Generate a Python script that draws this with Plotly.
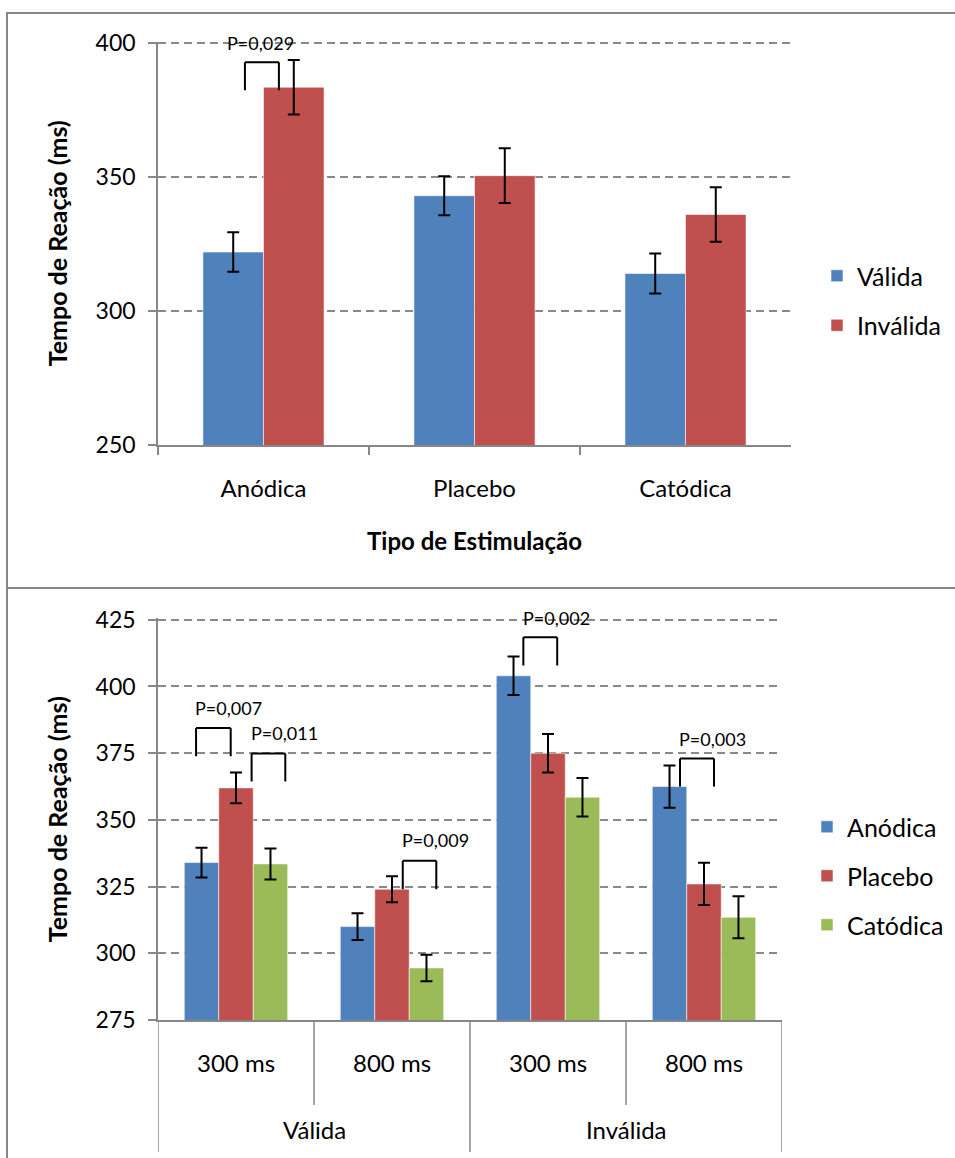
import plotly.graph_objects as go

W, H = 955, 1158


def px(x):
    return x / W


def py(y):
    return 1 - y / H


FONT = "Lato"
BLUE, RED, GREEN = "#4F81BD", "#C0504D", "#9BBB59"
GRID = "#8A8A8A"
FRAME = "#878787"

# ---- upper panel: reaction time by stimulation type and cue validity ----
stim_types = ["Anódica", "Placebo", "Catódica"]
cue_series = ["Válida", "Inválida"]
rt_valida = [322, 343, 314]
rt_invalida = [383.5, 350.5, 336]
err_valida = [7.4, 7.3, 7.5]
err_invalida = [10.2, 10.2, 10.2]

# ---- lower panel: reaction time by cue validity, SOA and stimulation ----
cue_groups = ["Válida", "Inválida"]
soa_labels = ["300 ms", "800 ms"]
stim_series = ["Anódica", "Placebo", "Catódica"]
rt_anodica = [334, 310, 404, 362.5]
rt_placebo = [362, 324, 375, 326]
rt_catodica = [333.5, 294.5, 358.5, 313.5]
err_anodica = [5.6, 5.0, 7.2, 7.9]
err_placebo = [5.8, 4.9, 7.2, 7.9]
err_catodica = [5.8, 5.0, 7.2, 7.9]

# significance brackets: (category index, left leg, right leg, top, leg end, label, label dx, label y)
brackets_top = [
    (0, -0.088, 0.073, 392.8, 382.4, "P=0,029", -0.012, 400.0),
]
brackets_bottom = [
    (0, -0.256, -0.034, 384.4, 373.9, "P=0,007", -0.045, 392.0),
    (0, 0.100, 0.316, 374.9, 364.4, "P=0,011", 0.308, 382.4),
    (1, 0.069, 0.284, 334.7, 324.0, "P=0,009", 0.276, 342.3),
    (2, -0.158, 0.059, 418.5, 407.9, "P=0,002", 0.056, 425.7),
    (3, -0.154, 0.064, 373.0, 362.5, "P=0,003", 0.054, 380.4),
]

# plot areas (pixels) and value ranges
TOP_RANGE = [250, 400.5]
TOP_DOM = [py(445), py(445 - 150.5 * 2.68)]
BOT_RANGE = [275, 425.5]
BOT_DOM = [py(1020), py(1020 - 150.5 * 2.668)]


def to_paper(v, rng, dom):
    return dom[0] + (v - rng[0]) / (rng[1] - rng[0]) * (dom[1] - dom[0])


fig = go.Figure()

# upper bars
w_top = 0.287
for i, (name, vals, errs, col) in enumerate(
    zip(cue_series, [rt_valida, rt_invalida], [err_valida, err_invalida], [BLUE, RED])
):
    fig.add_trace(go.Bar(
        x=stim_types, y=vals, name=name, width=w_top, offset=(i - 1) * w_top,
        marker=dict(color=col, line=dict(color="rgba(255,255,255,0.55)", width=1)),
        error_y=dict(type="data", array=errs, color="black", thickness=2, width=6),
        xaxis="x", yaxis="y", legend="legend", legendgroup=name, hoverinfo="skip",
    ))

# lower bars
x_keys = [f"{g} {s}" for g in cue_groups for s in soa_labels]
w_bot = 0.221
for i, (name, vals, errs, col) in enumerate(
    zip(stim_series, [rt_anodica, rt_placebo, rt_catodica],
        [err_anodica, err_placebo, err_catodica], [BLUE, RED, GREEN])
):
    fig.add_trace(go.Bar(
        x=x_keys, y=vals, name=name, width=w_bot, offset=(i - 1.5) * w_bot,
        marker=dict(color=col, line=dict(color="rgba(255,255,255,0.55)", width=1)),
        error_y=dict(type="data", array=errs, color="black", thickness=2, width=6),
        xaxis="x2", yaxis="y2", legend="legend2", legendgroup="b" + name, hoverinfo="skip",
    ))

shapes = []
annotations = []


def add_brackets(specs, xref, yref, rng, dom):
    for idx, l, r, top, bot, label, tdx, ty in specs:
        line = dict(color="black", width=2)
        shapes.append(dict(type="line", xref=xref, yref=yref, x0=idx + l, x1=idx + l, y0=bot, y1=top, line=line))
        shapes.append(dict(type="line", xref=xref, yref=yref, x0=idx + l, x1=idx + r, y0=top, y1=top, line=line))
        shapes.append(dict(type="line", xref=xref, yref=yref, x0=idx + r, x1=idx + r, y0=top, y1=bot, line=line))
        annotations.append(dict(x=idx + tdx, y=to_paper(ty, rng, dom), xref=xref, yref="paper",
                                text=label, showarrow=False,
                                font=dict(family=FONT, size=18, color="black"),
                                xanchor="center", yanchor="middle"))


add_brackets(brackets_top, "x", "y", TOP_RANGE, TOP_DOM)
add_brackets(brackets_bottom, "x2", "y2", BOT_RANGE, BOT_DOM)

# lower category axis: SOA labels, group labels and dividers
n_cat = len(x_keys)
for k in range(n_cat + 1):
    major = k % len(soa_labels) == 0
    shapes.append(dict(type="line", xref="x2", yref="paper", x0=k - 0.5, x1=k - 0.5,
                       y0=py(1020), y1=py(1152 if major else 1105),
                       line=dict(color=FRAME, width=1.5)))
for k in range(n_cat):
    annotations.append(dict(x=k, y=py(1062), xref="x2", yref="paper",
                            text=soa_labels[k % len(soa_labels)], showarrow=False,
                            font=dict(family=FONT, size=24, color="black"),
                            xanchor="center", yanchor="middle"))
for g, name in enumerate(cue_groups):
    annotations.append(dict(x=g * len(soa_labels) + (len(soa_labels) - 1) / 2, y=py(1129),
                            xref="x2", yref="paper", text=name, showarrow=False,
                            font=dict(family=FONT, size=24, color="black"),
                            xanchor="center", yanchor="middle"))

# panel frames
shapes.append(dict(type="rect", xref="paper", yref="paper", x0=px(7), x1=1.05, y0=py(588), y1=py(13),
                   line=dict(color=FRAME, width=2), layer="below"))
shapes.append(dict(type="rect", xref="paper", yref="paper", x0=px(7), x1=1.05, y0=-0.05, y1=py(588),
                   line=dict(color=FRAME, width=2), layer="below"))

yaxis_common = dict(
    showline=True, linecolor=FRAME, linewidth=1.5,
    ticks="outside", ticklen=8, tickcolor=FRAME, tickwidth=1.5,
    showgrid=True, gridcolor=GRID, gridwidth=1.5, griddash="8px,5px",
    zeroline=False, tickfont=dict(family=FONT, size=23, color="black"),
    ticklabelstandoff=8, automargin=False,
)
ytitle = dict(text="<b>Tempo de Reação (ms)</b>", font=dict(family=FONT, size=25, color="black"), standoff=21)

fig.update_layout(
    template="none",
    width=W, height=H, margin=dict(l=0, r=0, t=0, b=0, pad=0),
    paper_bgcolor="white", plot_bgcolor="white",
    barmode="overlay", showlegend=True,
    font=dict(family=FONT, color="black"),
    xaxis=dict(
        domain=[px(158), px(791)], anchor="y", automargin=False,
        showline=True, linecolor=FRAME, linewidth=1.5,
        ticks="outside", tickson="boundaries", ticklen=8, tickcolor=FRAME, tickwidth=1.5,
        showgrid=False, zeroline=False, tickfont=dict(family=FONT, size=24, color="black"),
        ticklabelstandoff=21,
        title=dict(text="<b>Tipo de Estimulação</b>", font=dict(family=FONT, size=24, color="black"), standoff=33),
    ),
    yaxis=dict(domain=TOP_DOM, anchor="x", range=TOP_RANGE, tickvals=[250, 300, 350, 400],
               title=ytitle, **yaxis_common),
    xaxis2=dict(
        domain=[px(158), px(782)], anchor="y2", automargin=False,
        showline=True, linecolor=FRAME, linewidth=1.5,
        ticks="", showticklabels=False, showgrid=False, zeroline=False,
        range=[-0.5, n_cat - 0.5],
    ),
    yaxis2=dict(domain=BOT_DOM, anchor="x2", range=BOT_RANGE, tickvals=[275, 300, 325, 350, 375, 400, 425],
                title=ytitle, **yaxis_common),
    legend=dict(
        x=px(817), y=py(253), xanchor="left", yanchor="top",
        font=dict(family=FONT, size=25, color="black"),
        traceorder="grouped", tracegroupgap=14, bgcolor="rgba(0,0,0,0)", borderwidth=0,
    ),
    legend2=dict(
        x=px(807), y=py(804), xanchor="left", yanchor="top",
        font=dict(family=FONT, size=25, color="black"),
        traceorder="grouped", tracegroupgap=13.5, bgcolor="rgba(0,0,0,0)", borderwidth=0,
    ),
    shapes=shapes,
    annotations=annotations,
)

fig.write_html("out.html")
